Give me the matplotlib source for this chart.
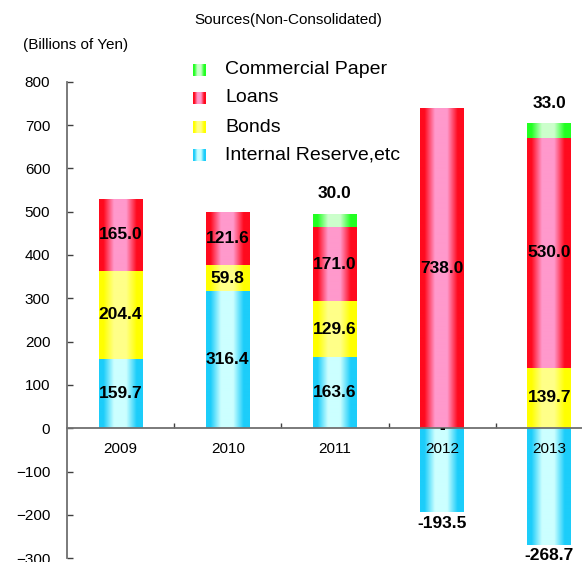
import numpy as np
import matplotlib.pyplot as plt
from matplotlib.colors import to_rgb

plt.rcParams['font.family'] = ['Liberation Sans', 'DejaVu Sans']

years = ['2009', '2010', '2011', '2012', '2013']
internal_reserve = [159.7, 316.4, 163.6, -193.5, -268.7]
bonds = [204.4, 59.8, 129.6, 0.0, 139.7]
loans = [165.0, 121.6, 171.0, 738.0, 530.0]
commercial_paper = [0.0, 0.0, 30.0, 0.0, 33.0]

series_names = ['Internal Reserve,etc', 'Bonds', 'Loans', 'Commercial Paper']
# (edge colour, centre colour) for the cylinder-like shading
shades = [('#1ccdfa', '#ccffff'),
          ('#ffff00', '#ffff88'),
          ('#ff0a1e', '#ff99cc'),
          ('#22ff22', '#ccffcc')]

W, H = 582, 562


def shade_strip(edge, center, n=88):
    x = np.linspace(0, 1, n)
    d = np.abs(x - 0.48)
    t = np.clip((0.38 - d) / 0.24, 0, 1)
    e = np.array(to_rgb(edge))
    c = np.array(to_rgb(center))
    return (e[None, :] * (1 - t)[:, None] + c[None, :] * t[:, None])[None, :, :]


fig = plt.figure(figsize=(W / 100, H / 100), dpi=100)
ax = fig.add_axes([67 / W, 3.8 / H, 536 / W, 476.5 / H])

pos = np.arange(len(years))
data = [internal_reserve, bonds, loans, commercial_paper]
bottom = np.zeros(len(years))
containers = []
for vals, (edge, center) in zip(data, shades):
    vals = np.array(vals)
    b = np.where(vals < 0, 0, bottom)
    bars = ax.bar(pos, vals, 0.41, bottom=b, color=edge, linewidth=0, zorder=1)
    for p in bars:
        x0, y0 = p.get_x(), p.get_y()
        x1, y1 = x0 + p.get_width(), y0 + p.get_height()
        if y0 == y1:
            continue
        ax.imshow(shade_strip(edge, center), extent=[x0, x1, min(y0, y1), max(y0, y1)],
                  aspect='auto', interpolation='bilinear', zorder=1.5)
    containers.append((vals, b))
    bottom = bottom + np.where(vals > 0, vals, 0)

label_kw = dict(ha='center', fontsize=12.5, fontweight='bold', color='black', zorder=5)
for k, (vals, b) in enumerate(containers):
    for i, v in enumerate(vals):
        if k == 3:
            if v > 0:
                ax.annotate(f'{v:.1f}', (pos[i], b[i] + v), xytext=(0, 15),
                            textcoords='offset points', va='center', **label_kw)
        elif v < 0:
            ax.annotate(f'{v:.1f}', (pos[i], v), xytext=(0, -2.5),
                        textcoords='offset points', va='top', annotation_clip=False, **label_kw)
        elif v == 0:
            ax.text(pos[i], v, '-', va='center', **label_kw)
        else:
            ax.text(pos[i], b[i] + v / 2, f'{v:.1f}', va='center', **label_kw)

ax.set_xlim(-0.5, 4.5)
ax.set_ylim(-300, 800)
ax.set_yticks(np.arange(-300, 801, 100))
ax.set_xticks(np.arange(0.5, 4.5, 1))
ax.set_xticklabels([])
ax.set_xticks(pos, minor=True)
ax.set_xticklabels(years, minor=True)
for s in ['top', 'right']:
    ax.spines[s].set_visible(False)
ax.spines['bottom'].set_position(('data', 0))
for s in ['left', 'bottom']:
    ax.spines[s].set_color('#707070')
    ax.spines[s].set_linewidth(1.3)
    ax.spines[s].set_zorder(3)
ax.tick_params(axis='y', direction='in', length=4, width=1, color='#404040',
               labelsize=11, pad=12)
ax.tick_params(axis='x', which='major', direction='in', length=3.5, width=1, color='#404040')
ax.tick_params(axis='x', which='minor', length=0, labelsize=11, pad=10)

fig.text(288 / W, 1 - 20 / H, 'Sources(Non-Consolidated)', ha='center', va='center', fontsize=11)
fig.text(23 / W, 1 - 45 / H, '(Billions of Yen)', ha='left', va='center', fontsize=11)

# legend, top entry first
legend_rows = [70, 98, 127, 155]
for name, (edge, center), y in zip(series_names[::-1], shades[::-1], legend_rows):
    lax = fig.add_axes([193 / W, 1 - (y + 6) / H, 13 / W, 12 / H])
    lax.imshow(shade_strip(edge, center), aspect='auto', interpolation='bilinear')
    lax.axis('off')
    fig.text(225 / W, 1 - y / H, name, ha='left', va='center', fontsize=14)

fig.savefig('out.png', dpi=100)
